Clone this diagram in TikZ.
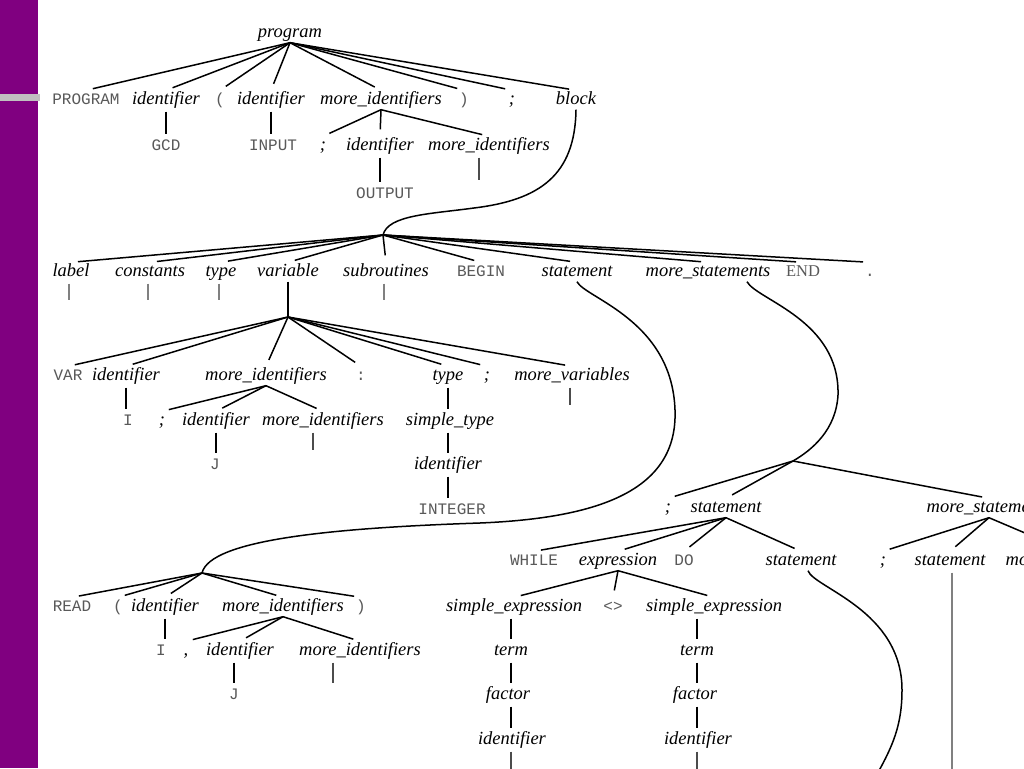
\documentclass[tikz,border=0pt]{standalone}
\usepackage{fontspec}
\setmainfont{Liberation Serif}
\setmonofont{Liberation Mono}
\begin{document}
\begin{tikzpicture}[x=1pt,y=-1pt,
  every node/.style={inner sep=1pt, text height=13pt, text depth=4pt},
  nt/.style={font=\fontsize{18.5}{20}\selectfont\itshape},
  tm/.style={font=\fontsize{16}{18}\selectfont\ttfamily, text=black!65},
  rm/.style={font=\fontsize{16.5}{18}\selectfont, text=black!65},
  edge/.style={draw=black, line width=1.5pt, shorten >=7pt},
  vl/.style={draw=black, line width=1.3pt, shorten <=2pt, shorten >=2pt},
  el/.style={draw=black!70, line width=1.3pt, shorten <=2pt},
  gl/.style={draw=black!50, line width=1.3pt, shorten <=2pt},
  curve/.style={draw=black, line width=1.5pt}]
\useasboundingbox (0,0) rectangle (1024,768);
\clip (0,0) rectangle (1024,768);
\fill[white] (0,0) rectangle (1024,768);
% side decoration
\fill[fill={rgb,255:red,128;green,0;blue,128}] (0,0) rectangle (38,768);
\fill[fill={rgb,255:red,192;green,192;blue,192}] (0,94) rectangle (40,101);

% level 0
\node[nt] (n0) at (290,33) {program};
% level 1
\node[tm] (a1) at (86,100) {PROGRAM};
\node[nt] (a2) at (166,100) {identifier};
\node[tm] (a3) at (220,100) {(};
\node[nt] (a4) at (271,100) {identifier};
\node[nt] (a5) at (381,100) {more\_identifiers};
\node[tm] (a6) at (464,100) {)};
\node[nt] (a7) at (512,100) {;};
\node[nt] (a8) at (576,100) {block};
\foreach \n in {a1,a2,a3,a4,a5,a6,a7,a8} \draw[edge] (n0.south) -- (\n.north);
% level 2
\node[tm] (b1) at (166,146) {GCD};
\node[tm] (b2) at (273,146) {INPUT};
\node[nt] (b3) at (323,146) {;};
\node[nt] (b4) at (380,146) {identifier};
\node[nt] (b5) at (489,146) {more\_identifiers};
\node[tm] (c1) at (385,194) {OUTPUT};
\draw[vl] (a2.south) -- (b1.north);
\draw[vl] (a4.south) -- (a4 |- b2.north);
\foreach \n in {b3,b4,b5} \draw[edge] (a5.south) -- (\n.north);
\draw[vl] (b4.south) -- (b4 |- c1.north);
\coordinate (eb5) at (479,180);
\draw[el] (eb5 |- b5.south) -- (eb5);

% block
\coordinate (blockapex) at (383,235);
\draw[curve] (a8.south) .. controls (575,175) and (540,200) .. (474,208)
  .. controls (430,214) and (388,215) .. (blockapex);
\node[nt] (d1) at (71,272) {label};
\node[nt] (d2) at (150,272) {constants};
\node[nt] (d3) at (221,272) {type};
\node[nt] (d4) at (288,272) {variable};
\node[nt] (d5) at (386,272) {subroutines};
\node[tm] (d6) at (481,272) {BEGIN};
\node[nt] (d7) at (577,272) {statement};
\node[nt] (d8) at (708,272) {more\_statements};
\node[rm] (d9) at (803,272) {END};
\node[tm] (d10) at (870,272) {.};
\foreach \n in {d1,d2,d3,d4,d5,d6,d7,d8,d9,d10} \draw[edge] (blockapex) -- (\n.north);
\coordinate (ed1) at (69,300);
\coordinate (ed2) at (148,300);
\coordinate (ed3) at (219,300);
\coordinate (ed5) at (384,300);
\draw[gl] (ed1 |- d1.south) -- (ed1);
\draw[gl] (ed2 |- d2.south) -- (ed2);
\draw[gl] (ed3 |- d3.south) -- (ed3);
\draw[gl] (ed5 |- d5.south) -- (ed5);

% variable
\coordinate (vapex) at (288,317);
\draw[curve] (d4.south) -- (vapex);
\node[tm] (e1) at (68,376) {VAR};
\node[nt] (e2) at (126,376) {identifier};
\node[nt] (e3) at (266,376) {more\_identifiers};
\node[tm] (e4) at (361,376) {:};
\node[nt] (e5) at (448,376) {type};
\node[nt] (e6) at (487,376) {;};
\node[nt] (e7) at (572,376) {more\_variables};
\foreach \n in {e1,e2,e3,e4,e5,e6,e7} \draw[edge] (vapex) -- (\n.north);
\node[tm] (f1) at (128,421) {I};
\node[nt] (f2) at (162,421) {;};
\node[nt] (f3) at (216,421) {identifier};
\node[nt] (f4) at (323,421) {more\_identifiers};
\node[nt] (f5) at (450,421) {simple\_type};
\node[tm] (g1) at (215,465) {J};
\node[nt] (g2) at (448,465) {identifier};
\node[tm] (h1) at (452,510) {INTEGER};
\draw[vl] (e2.south) -- (e2 |- f1.north);
\foreach \n in {f2,f3,f4} \draw[edge] (e3.south) -- (\n.north);
\draw[vl] (f3.south) -- (f3 |- g1.north);
\coordinate (ef4) at (313,450);
\draw[el] (ef4 |- f4.south) -- (ef4);
\coordinate (ee7) at (570,405);
\draw[el] (ee7 |- e7.south) -- (ee7);
\draw[vl] (e5.south) -- (e5 |- f5.north);
\draw[vl] (e5 |- f5.south) -- (e5 |- g2.north);
\draw[vl] (e5 |- g2.south) -- (e5 |- h1.north);

% statement -> READ
\coordinate (readapex) at (202,573);
\draw[curve] (d7.south) .. controls (585,298) and (672,320) .. (675,410)
  .. controls (678,490) and (600,518) .. (480,523)
  .. controls (330,528) and (210,540) .. (readapex);
\node[tm] (m1) at (72,607) {READ};
\node[tm] (m2) at (118,607) {(};
\node[nt] (m3) at (165,607) {identifier};
\node[nt] (m4) at (283,607) {more\_identifiers};
\node[tm] (m5) at (361,607) {)};
\foreach \n in {m1,m2,m3,m4,m5} \draw[edge] (readapex) -- (\n.north);
\node[tm] (n1) at (161,651) {I};
\node[nt] (n2) at (186,651) {,};
\node[nt] (n3) at (240,651) {identifier};
\node[nt] (n4) at (360,651) {more\_identifiers};
\node[tm] (o1) at (234,695) {J};
\draw[vl] (m3.south) -- (m3 |- n1.north);
\foreach \n in {n2,n3,n4} \draw[edge] (m4.south) -- (\n.north);
\draw[vl] (o1 |- n3.south) -- (o1.north);
\coordinate (en4) at (333,683);
\draw[el] (en4 |- n4.south) -- (en4);

% more_statements
\coordinate (msapex) at (793,461);
\draw[curve] ([xshift=39pt]d8.south) .. controls (757,300) and (840,320) .. (838,395)
  .. controls (836,430) and (812,450) .. (msapex);
\node[nt] (k1) at (668,508) {;};
\node[nt] (k2) at (726,508) {statement};
\node[nt] (k3) at (989,508) {more\_statements};
\foreach \n in {k1,k2,k3} \draw[edge] (msapex) -- (\n.north);
\node[tm] (l1) at (534,561) {WHILE};
\node[nt] (l2) at (618,561) {expression};
\node[tm] (l3) at (684,561) {DO};
\node[nt] (l4) at (801,561) {statement};
\node[nt] (l5) at (883,561) {;};
\node[nt] (l6) at (950,561) {statement};
\node[nt] (l7) at (1068,561) {more\_statements};
\foreach \n in {l1,l2,l3,l4} \draw[edge] (k2.south) -- (\n.north);
\foreach \n in {l5,l6,l7} \draw[edge] (k3.south) -- (\n.north);
\coordinate (el6) at (952,790);
\draw[gl] (el6 |- l6.south) -- (el6);
\draw[curve] ([xshift=7pt]l4.south) .. controls (814,588) and (902,610) .. (902,690)
  .. controls (902,730) and (890,752) .. (868,790);

% expression
\node[nt] (m6) at (514,607) {simple\_expression};
\node[tm] (m7) at (613,607) {<>};
\node[nt] (m8) at (714,607) {simple\_expression};
\foreach \n in {m6,m7,m8} \draw[edge] (l2.south) -- (\n.north);
\node[nt] (n5) at (511,651) {term};
\node[nt] (n6) at (697,651) {term};
\node[nt] (o2) at (508,695) {factor};
\node[nt] (o3) at (695,695) {factor};
\node[nt] (p1) at (512,740) {identifier};
\node[nt] (p2) at (698,740) {identifier};
\draw[vl] (n5 |- m6.south) -- (n5.north);
\draw[vl] (n5.south) -- (n5 |- o2.north);
\draw[vl] (n5 |- o2.south) -- (n5 |- p1.north);
\draw[vl] (n6 |- m8.south) -- (n6.north);
\draw[vl] (n6.south) -- (n6 |- o3.north);
\draw[vl] (n6 |- o3.south) -- (n6 |- p2.north);
\coordinate (ep1) at (511,790);
\coordinate (ep2) at (697,790);
\draw[el] (ep1 |- p1.south) -- (ep1);
\draw[el] (ep2 |- p2.south) -- (ep2);
\end{tikzpicture}
\end{document}
